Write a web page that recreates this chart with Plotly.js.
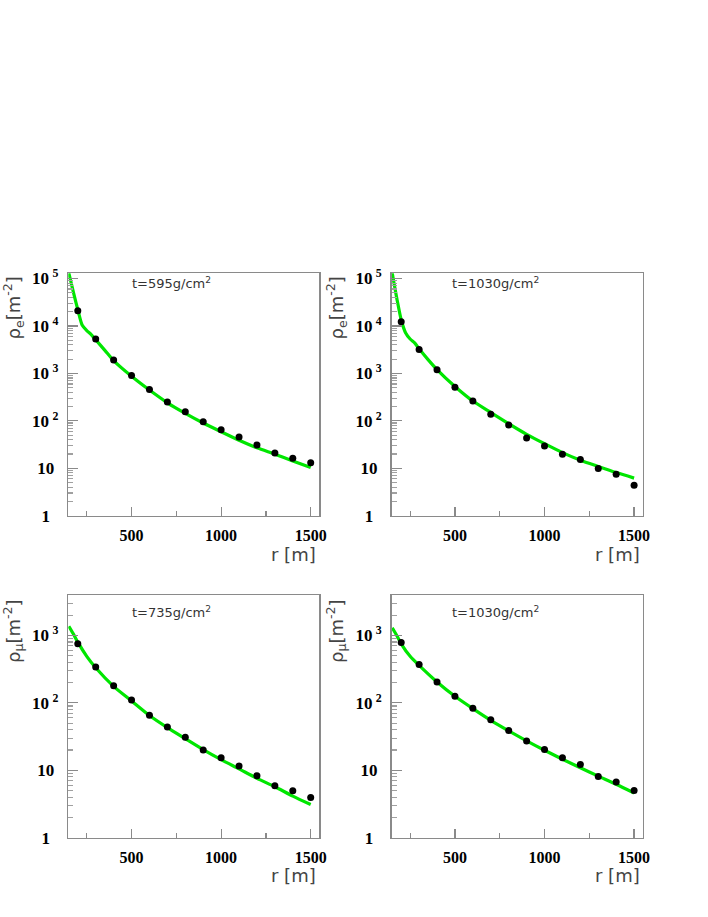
<!DOCTYPE html>
<html>
<head>
<meta charset="utf-8">
<script src="https://cdn.plot.ly/plotly-3.0.1.min.js"></script>
<style>html,body{margin:0;padding:0;background:#fff;}#chart{width:708px;height:917px;}</style>
</head>
<body>
<div id="chart"></div>
<script>
// ---- data ----
const r_pts = [200, 300, 400, 500, 600, 700, 800, 900, 1000, 1100, 1200, 1300, 1400, 1500];

const rho_e_595  = [2.1e4, 5.3e3, 1.92e3, 900, 458, 248, 155, 96, 65, 45.7, 31, 21, 16.3, 13];
const rho_e_1030 = [1.23e4, 3.2e3, 1.19e3, 513, 261, 137, 82, 43.5, 29.6, 19.8, 15.3, 9.9, 7.5, 4.4];
const rho_mu_735  = [752, 340, 180, 110, 65.4, 44, 30.9, 20, 15.3, 11.6, 8.3, 5.9, 4.96, 3.95];
const rho_mu_1030 = [787, 372, 204, 125, 83, 56.4, 38.8, 27.3, 20.3, 15.3, 12.2, 8.1, 6.7, 5.0];

const fit_r_e = [150, 175, 200, 225, 250, 275, 300, 350, 400, 500, 600, 700, 800, 900, 1000, 1100, 1200, 1300, 1400, 1500];
const fit_e_595  = [1.3e5, 5.2e4, 2.2e4, 1.03e4, 8.0e3, 6.6e3, 5.1e3, 3.1e3, 1.86e3, 870, 445, 240, 144, 90, 59, 39, 27, 19.8, 14.3, 10.4];
const fit_e_1030 = [1.3e5, 3.9e4, 1.35e4, 7.1e3, 5.3e3, 4.4e3, 3.3e3, 1.95e3, 1.2e3, 530, 261, 150, 87, 52, 33, 21.4, 14.8, 10.9, 8.1, 6.2];

const fit_r_mu = [150, 175, 200, 250, 300, 400, 500, 600, 700, 800, 900, 1000, 1100, 1200, 1300, 1400, 1500];
const fit_mu_735  = [1370, 1057, 795, 490, 332, 176, 107, 65, 43, 29.5, 20.3, 14.4, 10.5, 7.6, 5.7, 4.14, 3.1];
const fit_mu_1030 = [1300, 1000, 752, 490, 359, 204, 125, 82, 55, 38.4, 27.3, 19.8, 14.6, 10.9, 8.2, 6.2, 4.6];

const panelLabels = ['t=595g/cm<sup>2</sup>', 't=1030g/cm<sup>2</sup>', 't=735g/cm<sup>2</sup>', 't=1030g/cm<sup>2</sup>'];
const yTitles = ['ρ<sub>e</sub>[m<sup>-2</sup>]', 'ρ<sub>e</sub>[m<sup>-2</sup>]', 'ρ<sub>μ</sub>[m<sup>-2</sup>]', 'ρ<sub>μ</sub>[m<sup>-2</sup>]'];
const xTitle = 'r [m]';
const xTickVals = [500, 1000, 1500];
const yTickValsE = [1, 10, 100, 1000, 10000, 100000];
const yTickTextE = ['1\u00a0\u00a0', '10\u00a0', '10\u2009<sup>2</sup>', '10\u2009<sup>3</sup>', '10\u2009<sup>4</sup>', '10\u2009<sup>5</sup>'];
const yTickValsMu = [1, 10, 100, 1000];
const yTickTextMu = ['1\u00a0\u00a0', '10\u00a0', '10\u2009<sup>2</sup>', '10\u2009<sup>3</sup>'];

// ---- styling ----
const GREEN = '#00e600';
const AX = '#8a8a8a';
const minorLog = [];
for (let d = 0; d < 6; d++) for (let m = 2; m <= 9; m++) minorLog.push(m * Math.pow(10, d));

function fitTrace(x, y, n) {
  return {x: x, y: y, xaxis: 'x' + (n === 1 ? '' : n), yaxis: 'y' + (n === 1 ? '' : n),
    mode: 'lines', line: {color: GREEN, width: 3.2, shape: 'spline', smoothing: 0.7},
    hoverinfo: 'skip', showlegend: false};
}
function ptTrace(x, y, n) {
  return {x: x, y: y, xaxis: 'x' + (n === 1 ? '' : n), yaxis: 'y' + (n === 1 ? '' : n),
    mode: 'markers', marker: {color: '#000', size: 7}, cliponaxis: false, showlegend: false};
}

const data = [
  fitTrace(fit_r_e, fit_e_595, 1), ptTrace(r_pts, rho_e_595, 1),
  fitTrace(fit_r_e, fit_e_1030, 2), ptTrace(r_pts, rho_e_1030, 2),
  fitTrace(fit_r_mu, fit_mu_735, 3), ptTrace(r_pts, rho_mu_735, 3),
  fitTrace(fit_r_mu, fit_mu_1030, 4), ptTrace(r_pts, rho_mu_1030, 4)
];

const W = 708, H = 917;
const colX = [[68.3, 319.3], [391.7, 642.7]];
const rowY = [[273.3, 515.7], [595, 837.7]];

function xAx(col, anchor) {
  return {domain: [colX[col][0] / W, colX[col][1] / W], anchor: anchor, range: [147, 1548],
    showline: true, mirror: true, linecolor: AX, linewidth: 1.5, zeroline: false, showgrid: false,
    ticks: 'inside', ticklen: 9, tickwidth: 1.2, tickcolor: AX,
    tickmode: 'array', tickvals: xTickVals, ticklabelstandoff: 5,
    tickfont: {family: 'Liberation Serif', size: 16, color: '#000', weight: 'bold'},
    minor: {tickmode: 'array', tickvals: [250, 750, 1250], ticks: 'inside', ticklen: 5, tickwidth: 1.2, tickcolor: AX, showgrid: false}};
}
function yAx(row, anchor, isE) {
  return {domain: [1 - rowY[row][1] / H, 1 - rowY[row][0] / H], anchor: anchor, type: 'log',
    range: isE ? [0, 5.11] : [0, 3.6],
    showline: true, mirror: true, linecolor: AX, linewidth: 1.5, zeroline: false, showgrid: false,
    ticks: 'inside', ticklen: 10, tickwidth: 1.2, tickcolor: AX,
    tickmode: 'array', tickvals: isE ? yTickValsE : yTickValsMu, ticktext: isE ? yTickTextE : yTickTextMu,
    ticklabelstandoff: 5,
    tickfont: {family: 'Liberation Serif', size: 17, color: '#000', weight: 'bold'},
    minor: {tickmode: 'array', tickvals: minorLog, ticks: 'inside', ticklen: 5, tickwidth: 1.2, tickcolor: '#a0a0a0', showgrid: false}};
}

const annotations = [];
const panels = [[0, 0], [1, 0], [0, 1], [1, 1]];
const labelY = [283, 612];
const xTitleY = [554, 875];
const yTitleTop = [275, 597];
const yTitleX = [13, 336];
panels.forEach(([c, r], i) => {
  annotations.push({xref: 'paper', yref: 'paper', x: (colX[c][0] + 103.5) / W, y: 1 - labelY[r] / H,
    xanchor: 'center', yanchor: 'middle', showarrow: false, text: panelLabels[i],
    font: {family: 'DejaVu Sans', size: 13, color: '#333'}});
  annotations.push({xref: 'paper', yref: 'paper', x: (colX[c][1] - 1) / W, y: 1 - xTitleY[r] / H,
    xanchor: 'right', yanchor: 'middle', showarrow: false, text: xTitle,
    font: {family: 'DejaVu Sans', size: 18, color: '#444'}});
  annotations.push({xref: 'paper', yref: 'paper', x: yTitleX[c] / W, y: 1 - yTitleTop[r] / H,
    xanchor: 'center', yanchor: 'top', showarrow: false, textangle: -90, text: yTitles[i],
    font: {family: 'DejaVu Sans', size: 18, color: '#444'}});
});

const layout = {
  width: W, height: H, margin: {l: 0, r: 0, t: 0, b: 0},
  paper_bgcolor: '#fff', plot_bgcolor: '#fff', showlegend: false,
  xaxis: xAx(0, 'y'), yaxis: yAx(0, 'x', true),
  xaxis2: xAx(1, 'y2'), yaxis2: yAx(0, 'x2', true),
  xaxis3: xAx(0, 'y3'), yaxis3: yAx(1, 'x3', false),
  xaxis4: xAx(1, 'y4'), yaxis4: yAx(1, 'x4', false),
  annotations: annotations
};

Plotly.newPlot('chart', data, layout, {displayModeBar: false, staticPlot: true});
</script>
</body>
</html>
